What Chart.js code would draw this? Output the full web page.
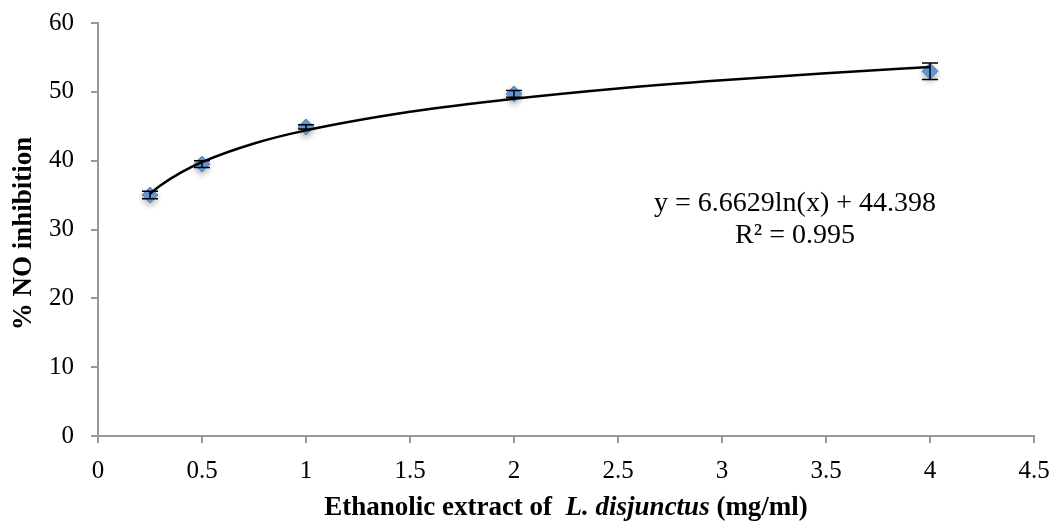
<!DOCTYPE html>
<html>
<head>
<meta charset="utf-8">
<script src="https://cdn.jsdelivr.net/npm/chart.js@4.4.1/dist/chart.umd.min.js"></script>
<style>
  body { margin: 0; background: #fff; }
  #wrap { width: 1055px; height: 526px; }
</style>
</head>
<body>
<div id="wrap"><canvas id="chart" width="1055" height="526"></canvas></div>
<script>
// measured points (mg/ml vs % NO inhibition)
const konz = [0.25, 0.5, 1, 2, 4];
const hemmung = [35.0, 39.5, 44.9, 49.7, 53.0];
const fehler = [0.55, 0.5, 0.3, 0.5, 1.2];

// log trendline
const trendX = [0.25, 0.3, 0.4, 0.5, 0.75, 1, 1.5, 2, 2.5, 3, 3.5, 4];
const trendY = [35.2, 36.4, 38.3, 39.8, 42.5, 44.4, 47.1, 49.0, 50.5, 51.7, 52.7, 53.6];

const xTicks = [0, 0.5, 1, 1.5, 2, 2.5, 3, 3.5, 4, 4.5];
const yTicks = [0, 10, 20, 30, 40, 50, 60];

const gleichung = ["y = 6.6629ln(x) + 44.398", "R² = 0.995"];

const serif = "'Liberation Serif', 'Times New Roman', serif";

const extras = {
  id: "extras",
  beforeDatasetDraw(chart, args) {
    if (args.index === 1) {
      chart.ctx.save();
      chart.ctx.shadowColor = "rgba(0,0,0,0.3)";
      chart.ctx.shadowBlur = 6;
      chart.ctx.shadowOffsetY = 3;
    }
  },
  afterDatasetDraw(chart, args) {
    if (args.index !== 1) return;
    const ctx = chart.ctx;
    ctx.restore();
    const xs = chart.scales.x, ys = chart.scales.y;
    ctx.save();
    ctx.strokeStyle = "#000";
    ctx.lineWidth = 1.5;
    konz.forEach((k, i) => {
      const px = xs.getPixelForValue(k);
      const top = ys.getPixelForValue(hemmung[i] + fehler[i]);
      const bot = ys.getPixelForValue(hemmung[i] - fehler[i]);
      ctx.beginPath();
      ctx.moveTo(px, top); ctx.lineTo(px, bot);
      ctx.moveTo(px - 8, top); ctx.lineTo(px + 8, top);
      ctx.moveTo(px - 8, bot); ctx.lineTo(px + 8, bot);
      ctx.stroke();
    });
    ctx.restore();
  },
  afterDraw(chart) {
    const ctx = chart.ctx;
    const a = chart.chartArea;
    ctx.save();
    ctx.fillStyle = "#000";
    // equation
    ctx.font = "28px " + serif;
    ctx.textAlign = "center";
    ctx.textBaseline = "alphabetic";
    ctx.fillText(gleichung[0], 795, 211);
    ctx.fillText(gleichung[1], 795, 243);
    // x title with italic part
    const teile = [
      ["bold 27px " + serif, "Ethanolic extract of  "],
      ["bold italic 27px " + serif, "L. disjunctus"],
      ["bold 27px " + serif, " (mg/ml)"]
    ];
    let gesamt = 0;
    teile.forEach(t => { ctx.font = t[0]; gesamt += ctx.measureText(t[1]).width; });
    let x = (a.left + a.right) / 2 - gesamt / 2;
    ctx.textAlign = "left";
    teile.forEach(t => {
      ctx.font = t[0];
      ctx.fillText(t[1], x, 515);
      x += ctx.measureText(t[1]).width;
    });
    // y title
    ctx.translate(31, (a.top + a.bottom) / 2 + 4);
    ctx.rotate(-Math.PI / 2);
    ctx.textAlign = "center";
    ctx.font = "bold 27px " + serif;
    ctx.fillText("% NO inhibition", 0, 0);
    ctx.restore();
  }
};

new Chart(document.getElementById("chart"), {
  type: "scatter",
  data: {
    datasets: [
      {
        type: "line",
        data: trendX.map((x, i) => ({ x: x, y: trendY[i] })),
        borderColor: "#000",
        borderWidth: 2.5,
        pointRadius: 0,
        cubicInterpolationMode: "monotone",
        fill: false
      },
      {
        data: konz.map((x, i) => ({ x: x, y: hemmung[i] })),
        pointStyle: "rectRot",
        pointRadius: 8,
        backgroundColor: "#639bdb",
        borderColor: "#4f85c6",
        borderWidth: 1
      }
    ]
  },
  plugins: [extras],
  options: {
    responsive: false,
    animation: false,
    layout: { padding: { top: 23, right: 21, left: 0, bottom: 0 } },
    plugins: { legend: { display: false }, tooltip: { enabled: false } },
    scales: {
      x: {
        type: "linear",
        min: 0, max: 4.5,
        afterBuildTicks: s => { s.ticks = xTicks.map(v => ({ value: v })); },
        afterFit: s => { s.height = 90; s.paddingLeft = 0; s.paddingRight = 0; },
        grid: { drawOnChartArea: false, color: "#999", lineWidth: 2, tickLength: 7 },
        border: { color: "#999", width: 2 },
        ticks: { color: "#000", font: { family: serif, size: 25 }, padding: 13, callback: v => String(v) }
      },
      y: {
        min: 0, max: 60,
        afterBuildTicks: s => { s.ticks = yTicks.map(v => ({ value: v })); },
        afterFit: s => { s.width = 98; s.paddingTop = 0; s.paddingBottom = 0; },
        grid: { drawOnChartArea: false, color: "#999", lineWidth: 2, tickLength: 7 },
        border: { color: "#999", width: 2 },
        ticks: { color: "#000", font: { family: serif, size: 25 }, padding: 17 }
      }
    }
  }
});
</script>
</body>
</html>
